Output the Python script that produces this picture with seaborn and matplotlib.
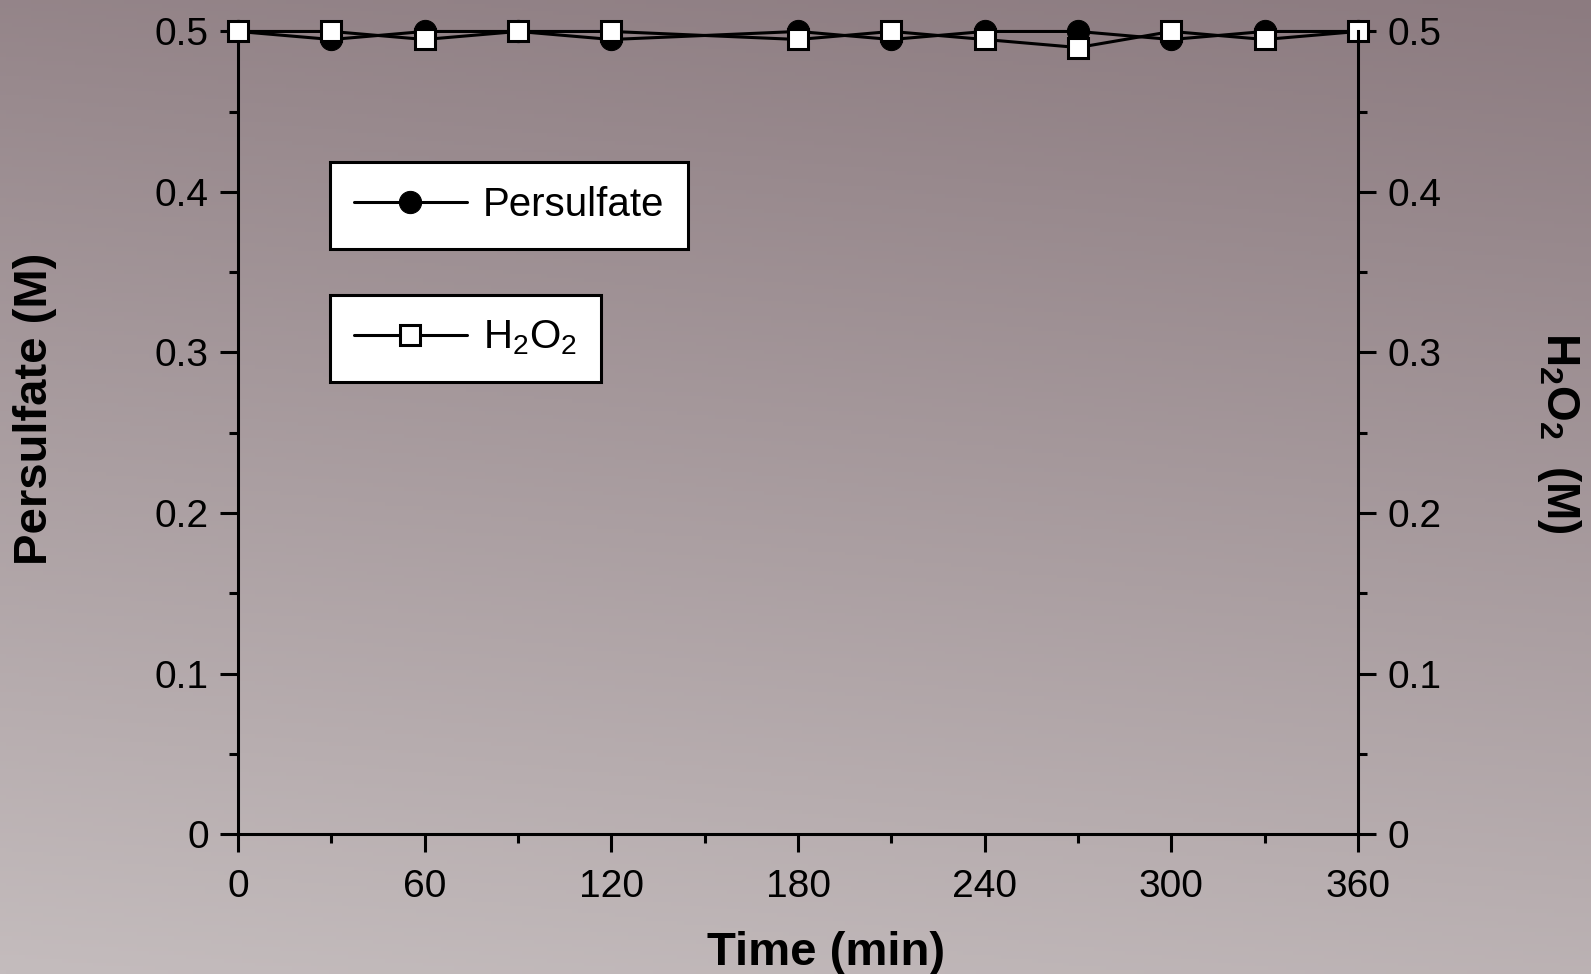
import matplotlib
matplotlib.use("Agg")
import matplotlib.pyplot as plt
import numpy as np
import pandas as pd
import seaborn as sns

# data
time_min = [0, 30, 60, 90, 120, 180, 210, 240, 270, 300, 330, 360]
persulfate = [0.5, 0.495, 0.5, 0.5, 0.495, 0.5, 0.495, 0.5, 0.5, 0.495, 0.5, 0.5]
h2o2 = [0.5, 0.5, 0.495, 0.5, 0.5, 0.495, 0.5, 0.495, 0.49, 0.5, 0.495, 0.5]

x_ticks = [0, 60, 120, 180, 240, 300, 360]
y_ticks = [0, 0.1, 0.2, 0.3, 0.4, 0.5]
y_ticklabels = ["0", "0.1", "0.2", "0.3", "0.4", "0.5"]

sns.set_style("ticks")
plt.rcParams["font.family"] = ["Liberation Sans", "DejaVu Sans"]
plt.rcParams["mathtext.fontset"] = "custom"
plt.rcParams["mathtext.rm"] = "Liberation Sans"
plt.rcParams["mathtext.bf"] = "Liberation Sans:bold"
plt.rcParams["mathtext.default"] = "regular"
for k in ("text.color", "axes.labelcolor", "xtick.color", "ytick.color", "axes.edgecolor"):
    plt.rcParams[k] = "black"

df = pd.DataFrame({"Time": time_min, "Persulfate": persulfate, "H2O2": h2o2})

fig = plt.figure(figsize=(15.91, 9.74), dpi=100)

# gradient background
bg = fig.add_axes([0, 0, 1, 1], zorder=-10)
top = np.array([140, 123, 128]) / 255
bot = np.array([196, 188, 189]) / 255
yy = np.linspace(0, 1, 256)[:, None]
xx = np.linspace(0, 1, 256)[None, :]
t = np.clip(0.85 * yy + 0.15 * (1 - xx), 0, 1)
grad = top[None, None, :] * (1 - t[..., None]) + bot[None, None, :] * t[..., None]
bg.imshow(grad, aspect="auto", extent=[0, 1, 0, 1])
bg.axis("off")

ax = fig.add_axes([0.1496, 0.1437, 0.7040, 0.8240])
ax.set_facecolor("none")
ax2 = ax.twinx()
ax2.set_facecolor("none")

sns.lineplot(data=df, x="Time", y="Persulfate", ax=ax, color="black", lw=2.2,
             marker="o", markersize=16, markeredgecolor="black",
             markerfacecolor="black", label="Persulfate", legend=False, clip_on=False)
sns.lineplot(data=df, x="Time", y="H2O2", ax=ax2, color="black", lw=2.2,
             marker="s", markersize=14, markeredgecolor="black", markeredgewidth=2.2,
             markerfacecolor="white", label="H$_2$O$_2$", legend=False, clip_on=False)

for a in (ax, ax2):
    a.set_xlim(0, 360)
    a.set_ylim(0, 0.5)
    a.set_yticks(y_ticks)
    a.set_yticks(np.arange(0.05, 0.5, 0.1), minor=True)
    a.spines["top"].set_visible(False)
    for s in ("left", "right", "bottom"):
        a.spines[s].set_linewidth(2.2)
    a.tick_params(which="major", direction="out", length=13, width=2.2, labelsize=28, pad=8)
    a.tick_params(which="minor", direction="out", length=6.5, width=2.2)

ax.set_xticks(x_ticks)
ax.set_xticks(np.arange(30, 360, 60), minor=True)
ax.tick_params(axis="x", pad=12)
ax.set_yticklabels(y_ticklabels)
ax2.set_yticklabels(y_ticklabels)
ax.spines["right"].set_visible(False)
ax2.spines["left"].set_visible(False)
ax2.spines["bottom"].set_visible(False)

ax.set_xlabel("Time (min)", fontsize=34, fontweight="bold", labelpad=19)
ax.xaxis.label.set_x(0.525)
ax.set_ylabel("Persulfate (M)", fontsize=34, fontweight="bold", labelpad=70)
ax.yaxis.label.set_y(0.53)
ax2.set_ylabel(r"$\mathbf{H_2O_2}$  (M)", fontsize=33, fontweight="bold",
               rotation=270, labelpad=102)

leg_kw = dict(loc="upper left", borderaxespad=0, fancybox=False, framealpha=1,
              edgecolor="black", facecolor="white", fontsize=29, handlelength=2.8,
              borderpad=0.6, handletextpad=0.4)
h1, l1 = ax.get_legend_handles_labels()
h2, l2 = ax2.get_legend_handles_labels()
leg1 = ax2.legend(h1, l1, bbox_to_anchor=(0.082, 0.837), **leg_kw)
leg1.get_frame().set_linewidth(2.2)
ax2.add_artist(leg1)
leg2 = ax2.legend(h2, l2, bbox_to_anchor=(0.082, 0.672), **leg_kw)
leg2.get_frame().set_linewidth(2.2)

fig.savefig("out.png", dpi=100)
